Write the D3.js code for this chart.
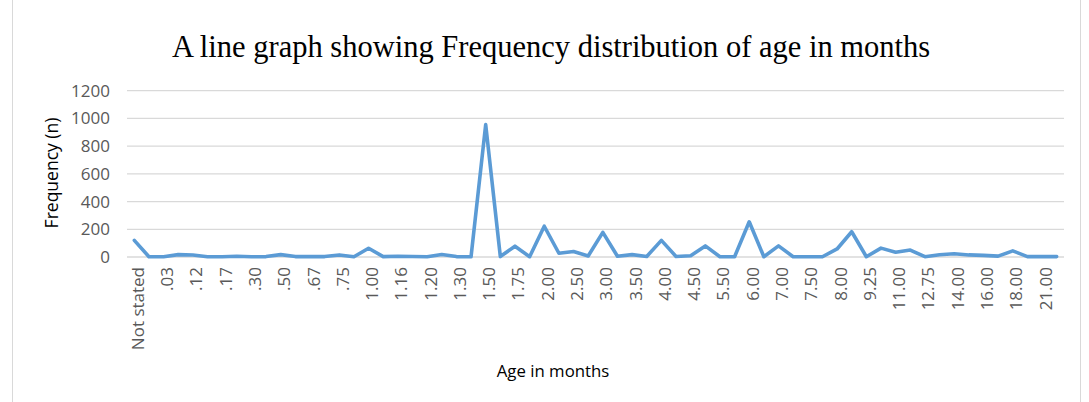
<!DOCTYPE html>
<html>
<head>
<meta charset="utf-8">
<script src="https://cdn.jsdelivr.net/npm/d3@7"></script>
<style>
  html, body { margin: 0; padding: 0; background: #fff; }
  svg { display: block; }
</style>
</head>
<body>
<svg id="chart" width="1089" height="402"></svg>
<script>
// ---- data ----
const categories = ["Not stated", ".02", ".03", ".10", ".12", ".14", ".17", ".25", ".30", ".40",
  ".50", ".60", ".67", ".70", ".75", ".90", "1.00", "1.10", "1.16", "1.18",
  "1.20", "1.25", "1.30", "1.40", "1.50", "1.60", "1.75", "1.90", "2.00", "2.25",
  "2.50", "2.75", "3.00", "3.25", "3.50", "3.75", "4.00", "4.25", "4.50", "5.00",
  "5.50", "5.75", "6.00", "6.50", "7.00", "7.25", "7.50", "7.75", "8.00", "9.00",
  "9.25", "10.00", "11.00", "12.00", "12.75", "13.00", "14.00", "15.00", "16.00", "17.00",
  "18.00", "20.00", "21.00", "24.00"];
const frequency = [120, 2, 2, 17, 14, 2, 2, 5, 2, 3,
  17, 3, 3, 3, 15, 2, 63, 3, 5, 4,
  2, 18, 3, 2, 955, 3, 78, 2, 222, 27,
  40, 7, 178, 5, 17, 4, 120, 4, 9, 80,
  2, 2, 254, 2, 80, 2, 2, 2, 58, 182,
  2, 64, 34, 50, 2, 16, 23, 15, 12, 6,
  44, 3, 3, 3];
const yTicks = [0, 200, 400, 600, 800, 1000, 1200];
const titleText = "A line graph showing Frequency distribution of age in months";
const xTitle = "Age in months";
const yTitle = "Frequency (n)";

// ---- layout ----
const svg = d3.select("#chart");
const W = 1089, H = 402;
const plot = { left: 127, right: 1064, top: 90.7, bottom: 257 };
const sans = "'Open Sans', 'DejaVu Sans', sans-serif";

// chart area border
svg.append("rect")
  .attr("x", 12.5).attr("y", -5)
  .attr("width", 1068).attr("height", H + 20)
  .attr("fill", "#fff").attr("stroke", "#d9d9d9").attr("stroke-width", 1);

const x = d3.scalePoint().domain(categories).range([plot.left, plot.right]).padding(0.5);
const y = d3.scaleLinear().domain([0, 1200]).range([plot.bottom, plot.top]);

// gridlines
svg.append("g").selectAll("line").data(yTicks).join("line")
  .attr("x1", plot.left).attr("x2", plot.right)
  .attr("y1", d => y(d)).attr("y2", d => y(d))
  .attr("stroke", "#d9d9d9").attr("stroke-width", 1.3);

// y axis
const yAxis = d3.axisLeft(y).tickValues(yTicks).tickSize(0).tickPadding(0).tickFormat(d3.format("d"));
const gy = svg.append("g").attr("transform", `translate(${plot.left - 17},0)`).call(yAxis);
gy.select(".domain").remove();
gy.selectAll("text")
  .attr("fill", "#595959")
  .style("font-family", sans)
  .style("font-size", "17px");

// x axis
const xAxis = d3.axisBottom(x)
  .tickValues(categories.filter((d, i) => i % 2 === 0))
  .tickSize(0).tickPadding(0);
const gx = svg.append("g").attr("transform", `translate(0,${plot.bottom})`).call(xAxis);
gx.select(".domain").remove();
gx.selectAll("text")
  .attr("fill", "#595959")
  .attr("text-anchor", "end")
  .attr("dy", null)
  .attr("y", 0)
  .attr("transform", "translate(9,10) rotate(-90)")
  .style("font-family", sans)
  .style("font-size", "17px");

// line
const line = d3.line()
  .x((d, i) => x(categories[i]))
  .y(d => y(d));
svg.append("path")
  .datum(frequency)
  .attr("d", line)
  .attr("fill", "none")
  .attr("stroke", "#5B9BD5")
  .attr("stroke-width", 3.6)
  .attr("stroke-linejoin", "round")
  .attr("stroke-linecap", "round");

// title
svg.append("text")
  .attr("x", 551).attr("y", 57)
  .attr("text-anchor", "middle")
  .attr("fill", "#000")
  .style("font-family", "'Liberation Serif', 'Times New Roman', serif")
  .style("font-size", "30.5px")
  .text(titleText);

// axis titles
svg.append("text")
  .attr("x", 553).attr("y", 377)
  .attr("text-anchor", "middle")
  .attr("fill", "#000")
  .style("font-family", sans)
  .style("font-size", "16.8px")
  .text(xTitle);

svg.append("text")
  .attr("transform", "translate(58,173) rotate(-90)")
  .attr("text-anchor", "middle")
  .attr("fill", "#000")
  .style("font-family", sans)
  .style("font-size", "17.5px")
  .text(yTitle);
</script>
</body>
</html>
